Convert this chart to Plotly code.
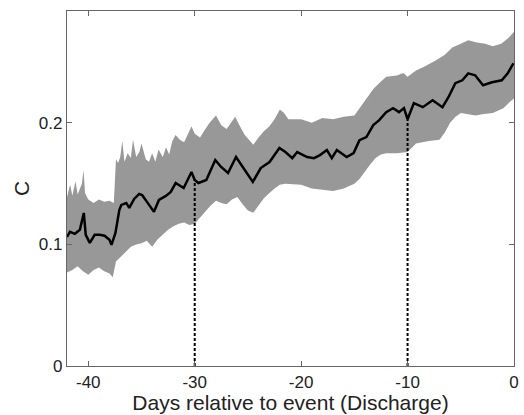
import plotly.graph_objects as go

# Mean curve (days, C)
mean_x = [-42.0, -41.72, -41.26, -40.79, -40.42, -40.24, -39.86, -39.40, -38.94, -38.47,
          -38.01, -37.82, -37.45, -37.08, -36.89, -36.43, -36.15, -35.69, -35.22, -34.94,
          -34.29, -33.83, -33.36, -32.71, -32.25, -31.79, -31.04, -30.30, -30.0, -29.65,
          -28.91, -28.07, -27.52, -26.87, -26.12, -25.47, -24.54, -23.80, -22.97, -22.04,
          -21.48, -20.83, -20.37, -19.44, -18.79, -18.23, -17.58, -17.12, -16.65, -15.72,
          -15.07, -14.52, -13.87, -13.22, -12.66, -12.01, -11.36, -10.80, -10.34, -10.0,
          -9.41, -8.57, -7.65, -6.72, -6.16, -5.51, -4.86, -4.30, -3.65, -2.91,
          -2.07, -1.15, -0.59, -0.05]
mean_y = [0.1062, 0.1103, 0.1087, 0.1120, 0.1259, 0.1079, 0.1013, 0.1079, 0.1079, 0.1071,
          0.1038, 0.0997, 0.1095, 0.1284, 0.1325, 0.1341, 0.1300, 0.1374, 0.1415, 0.1407,
          0.1325, 0.1268, 0.1366, 0.1399, 0.1432, 0.1505, 0.1464, 0.1596, 0.1530, 0.1505,
          0.1530, 0.1694, 0.1637, 0.1587, 0.1719, 0.1637, 0.1514, 0.1628, 0.1678, 0.1793,
          0.1760, 0.1710, 0.1760, 0.1719, 0.1710, 0.1735, 0.1776, 0.1710, 0.1776, 0.1719,
          0.1752, 0.1858, 0.1883, 0.1981, 0.2022, 0.2088, 0.2121, 0.2088, 0.2121, 0.2030,
          0.2162, 0.2129, 0.2186, 0.2129, 0.2211, 0.2326, 0.2350, 0.2407, 0.2391, 0.2309,
          0.2334, 0.2350, 0.2407, 0.2490]

# Upper edge of the shaded band
upper_x = [-42.0, -41.7, -41.5, -41.2, -41.0, -40.6, -40.45, -40.3, -40.0, -39.5,
           -39.0, -38.5, -38.0, -37.6, -37.4, -37.2, -37.0, -36.8, -36.6, -36.3,
           -36.0, -35.8, -35.5, -35.2, -35.0, -34.6, -34.3, -34.0, -33.7, -33.4,
           -33.0, -32.7, -32.4, -32.1, -31.8, -31.4, -31.0, -30.6, -30.3, -30.0,
           -29.5, -29.0, -28.6, -28.0, -27.5, -27.0, -26.6, -26.2, -25.8, -25.3,
           -24.8, -24.5, -24.0, -23.5, -23.0, -22.5, -22.0, -21.6, -21.2, -20.8,
           -20.0, -19.0, -18.0, -17.0, -16.0, -15.0, -14.5, -14.0, -13.5, -13.2,
           -12.5, -12.0, -11.0, -10.4, -10.0, -9.2, -8.5, -7.4, -6.5, -5.8,
           -5.0, -4.3, -3.5, -2.7, -2.0, -1.2, -0.5, 0.0]
upper_y = [0.139, 0.149, 0.140, 0.152, 0.141, 0.150, 0.161, 0.142, 0.137, 0.134,
           0.137, 0.135, 0.136, 0.134, 0.170, 0.167, 0.172, 0.185, 0.168, 0.175,
           0.171, 0.186, 0.172, 0.176, 0.183, 0.170, 0.168, 0.175, 0.168, 0.178,
           0.172, 0.180, 0.174, 0.185, 0.190, 0.186, 0.184, 0.192, 0.197, 0.191,
           0.188, 0.195, 0.200, 0.206, 0.198, 0.195, 0.200, 0.205, 0.198, 0.190,
           0.185, 0.182, 0.188, 0.193, 0.197, 0.203, 0.211, 0.208, 0.203, 0.203,
           0.203, 0.200, 0.204, 0.203, 0.205, 0.206, 0.212, 0.218, 0.224, 0.228,
           0.234, 0.238, 0.239, 0.241, 0.238, 0.243, 0.246, 0.251, 0.256, 0.262,
           0.265, 0.268, 0.266, 0.265, 0.263, 0.265, 0.270, 0.275]

# Lower edge of the shaded band
lower_x = [-42.0, -41.5, -41.0, -40.5, -40.0, -39.5, -39.0, -38.5, -38.0, -37.7,
           -37.4, -37.0, -36.5, -36.0, -35.5, -35.0, -34.5, -34.0, -33.5, -33.0,
           -32.5, -32.0, -31.5, -31.0, -30.5, -30.0, -29.5, -29.0, -28.5, -28.0,
           -27.5, -27.0, -26.5, -26.0, -25.5, -25.0, -24.5, -24.0, -23.5, -23.0,
           -22.5, -22.0, -21.5, -21.0, -20.0, -19.0, -18.0, -17.0, -16.0, -15.0,
           -14.5, -14.0, -13.5, -13.0, -12.5, -12.0, -11.0, -10.0, -9.2, -8.0,
           -7.0, -6.5, -6.0, -5.5, -5.0, -4.3, -3.6, -3.0, -2.0, -1.0,
           -0.3, 0.0]
lower_y = [0.077, 0.079, 0.082, 0.078, 0.075, 0.079, 0.081, 0.078, 0.076, 0.073,
           0.086, 0.090, 0.094, 0.098, 0.100, 0.101, 0.103, 0.098, 0.104, 0.108,
           0.112, 0.115, 0.117, 0.118, 0.116, 0.117, 0.122, 0.127, 0.132, 0.136,
           0.134, 0.133, 0.137, 0.139, 0.133, 0.128, 0.126, 0.132, 0.138, 0.142,
           0.146, 0.149, 0.150, 0.150, 0.149, 0.146, 0.145, 0.144, 0.146, 0.150,
           0.154, 0.160, 0.166, 0.171, 0.174, 0.175, 0.175, 0.176, 0.183, 0.185,
           0.186, 0.192, 0.200, 0.205, 0.208, 0.207, 0.206, 0.207, 0.208, 0.212,
           0.218, 0.220]

marker_days = [-30.0, -10.0]
x_ticks = [-40, -30, -20, -10, 0]
x_tick_labels = ["-40", "-30", "-20", "-10", "0"]
y_ticks = [0, 0.1, 0.2]
y_tick_labels = ["0", "0.1", "0.2"]

fig = go.Figure()

fig.add_trace(go.Scatter(
    x=upper_x + lower_x[::-1], y=upper_y + lower_y[::-1],
    fill="toself", fillcolor="rgb(152,152,152)", line=dict(width=0),
    mode="lines", hoverinfo="skip", showlegend=False))

for d in marker_days:
    yv = mean_y[mean_x.index(d)]
    fig.add_trace(go.Scatter(
        x=[d, d], y=[0, yv], mode="lines",
        line=dict(color="black", width=2, dash="3px,2px"), showlegend=False))

fig.add_trace(go.Scatter(
    x=mean_x, y=mean_y, mode="lines",
    line=dict(color="black", width=2.5), showlegend=False))

axis_common = dict(
    showline=True, linecolor="#666666", linewidth=1.2, mirror="ticks",
    ticks="inside", ticklen=5, tickcolor="#666666", showgrid=False, zeroline=False,
    tickfont=dict(family="Liberation Sans, Arial", size=17, color="#222222"))

fig.update_xaxes(range=[-42, 0], tickvals=x_ticks, ticktext=x_tick_labels,
                 title=dict(text="Days relative to event (Discharge)",
                            font=dict(family="Liberation Sans, Arial", size=21, color="#222222"),
                            standoff=0),
                 **axis_common)
fig.update_yaxes(range=[0, 0.292], tickvals=y_ticks, ticktext=y_tick_labels,
                 title=dict(text="C",
                            font=dict(family="Liberation Sans, Arial", size=21, color="#222222"),
                            standoff=3),
                 **axis_common)

fig.update_layout(
    width=524, height=415,
    margin=dict(l=67, r=5, t=11, b=49),
    plot_bgcolor="white", paper_bgcolor="white")

fig.write_html("out.html", config={"displayModeBar": False},
               post_script="document.body.style.margin='0';document.body.style.padding='0';")
